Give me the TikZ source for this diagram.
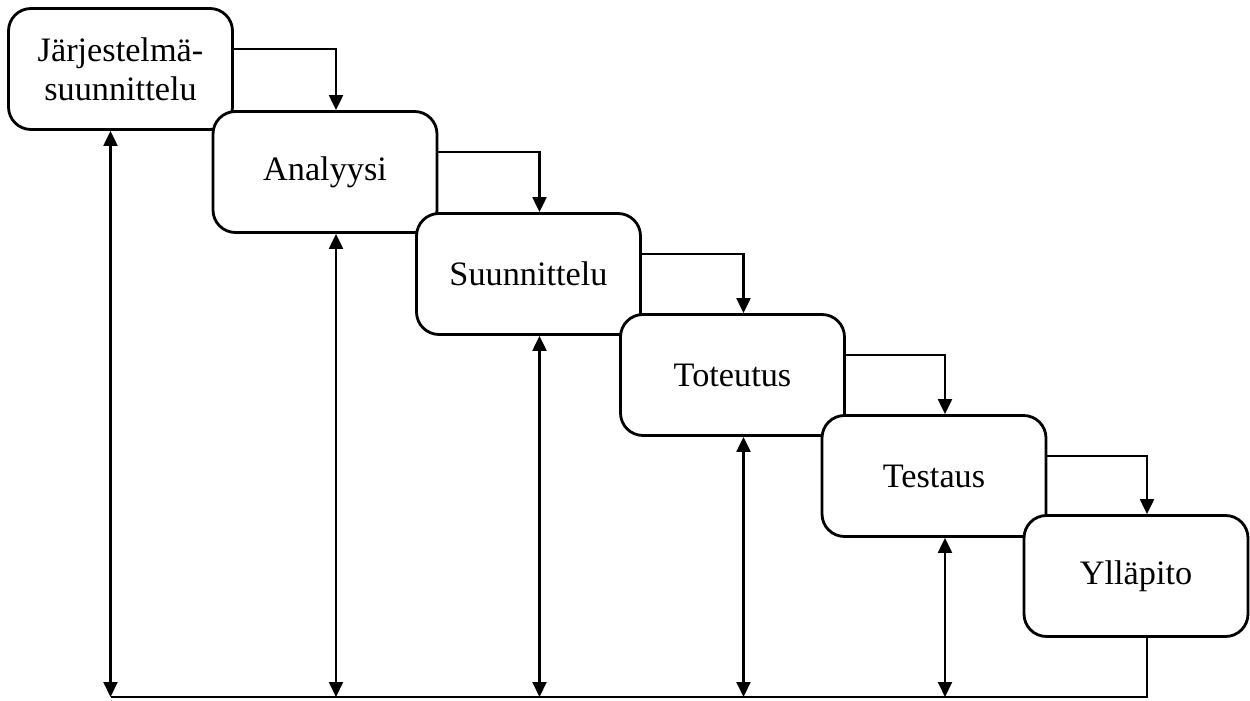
\documentclass[tikz,border=0pt]{standalone}
\usepackage{fontspec}
\setmainfont{Liberation Serif}
\usetikzlibrary{arrows.meta}

\tikzset{
    phase/.style={draw=black, fill=white, line width=1.6pt, rounded corners=0.45cm,
        minimum width=4.48cm, minimum height=2.42cm, align=center,
        font=\fontsize{19.5}{22}\selectfont},
    link/.style={line width=1.2pt, -{Triangle[length=0.3cm,width=0.28cm]}},
    both/.style={line width=1.2pt, {Triangle[length=0.3cm,width=0.28cm]}-{Triangle[length=0.3cm,width=0.28cm]}},
    plain/.style={line width=1.2pt}
}

\begin{document}
\begin{tikzpicture}
    \useasboundingbox (0,0) rectangle (25,14);

    % Phases of the waterfall, top left to bottom right
    \node[phase] (b1) at (2.41,12.62) {Järjestelmä-\\suunnittelu};
    \node[phase] (b2) at (6.50,10.56) {Analyysi};
    \node[phase] (b3) at (10.57,8.52) {Suunnittelu};
    \node[phase] (b4) at (14.65,6.50) {Toteutus};
    \node[phase] (b5) at (18.68,4.48) {Testaus};
    \node[phase] (b6) at (22.72,2.48) {Ylläpito};

    % Steps down from one phase to the next
    \draw[link] ([yshift=0.4cm]b1.east) -| ([xshift=0.22cm]b2.north);
    \draw[link] ([yshift=0.4cm]b2.east) -| ([xshift=0.22cm]b3.north);
    \draw[link] ([yshift=0.4cm]b3.east) -| ([xshift=0.22cm]b4.north);
    \draw[link] ([yshift=0.4cm]b4.east) -| ([xshift=0.22cm]b5.north);
    \draw[link] ([yshift=0.4cm]b5.east) -| ([xshift=0.22cm]b6.north);

    % Feedback line along the bottom
    \coordinate (base) at (0,0.06);
    \coordinate (f1) at ([xshift=-0.2cm]b1.south |- base);
    \coordinate (f2) at ([xshift=0.22cm]b2.south |- base);
    \coordinate (f3) at ([xshift=0.22cm]b3.south |- base);
    \coordinate (f4) at ([xshift=0.22cm]b4.south |- base);
    \coordinate (f5) at ([xshift=0.22cm]b5.south |- base);
    \coordinate (f6) at ([xshift=0.22cm]b6.south |- base);

    \draw[both] ([xshift=-0.2cm]b1.south) -- (f1);
    \draw[both] ([xshift=0.22cm]b2.south) -- (f2);
    \draw[both] ([xshift=0.22cm]b3.south) -- (f3);
    \draw[both] ([xshift=0.22cm]b4.south) -- (f4);
    \draw[both] ([xshift=0.22cm]b5.south) -- (f5);
    \draw[plain] (f1) -- (f6) -- ([xshift=0.22cm]b6.south);

\end{tikzpicture}
\end{document}
